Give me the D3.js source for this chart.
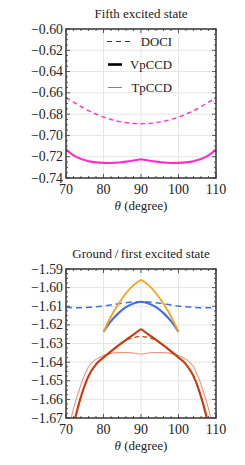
<!DOCTYPE html>
<html>
<head>
<meta charset="utf-8">
<script src="https://cdn.jsdelivr.net/npm/d3@7"></script>
<style>
  body { margin: 0; background: #fff; }
  text { font-family: "Liberation Serif", "DejaVu Serif", serif; fill: #222; }
</style>
</head>
<body>
<script>
// angles (degree), every 2 degrees
var theta = [70,72,74,76,78,80,82,84,86,88,90,92,94,96,98,100,102,104,106,108,110];
var thetaMid = [80,82,84,86,88,90,92,94,96,98,100];

// Fifth excited state
var fifthDOCI  = [-0.6645,-0.6688,-0.6730,-0.6768,-0.6800,-0.6828,-0.6850,-0.6868,-0.6880,-0.6888,-0.6890,
                  -0.6888,-0.6880,-0.6868,-0.6850,-0.6828,-0.6800,-0.6768,-0.6730,-0.6688,-0.6645];
var fifthVp    = [-0.7130,-0.7188,-0.7222,-0.7242,-0.7253,-0.7258,-0.7259,-0.7255,-0.7246,-0.7236,-0.7223,
                  -0.7236,-0.7246,-0.7255,-0.7259,-0.7258,-0.7253,-0.7242,-0.7222,-0.7188,-0.7130];

// Ground / first excited state
var groundDOCI = [-1.6106,-1.6108,-1.6108,-1.6106,-1.6103,-1.6099,-1.6093,-1.6087,-1.6081,-1.6077,-1.6076,
                  -1.6077,-1.6081,-1.6087,-1.6093,-1.6099,-1.6103,-1.6106,-1.6108,-1.6108,-1.6106];
var groundVp   = [-1.6237,-1.6180,-1.6137,-1.6105,-1.6085,-1.6076,-1.6085,-1.6105,-1.6137,-1.6180,-1.6237];
var groundTp   = [-1.6237,-1.6155,-1.6087,-1.6030,-1.5987,-1.5958,-1.5987,-1.6030,-1.6087,-1.6155,-1.6237];
var firstDOCI  = [-1.6900,-1.6735,-1.6585,-1.6475,-1.6412,-1.6375,-1.6342,-1.6310,-1.6282,-1.6268,-1.6263,
                  -1.6268,-1.6282,-1.6310,-1.6342,-1.6375,-1.6412,-1.6475,-1.6585,-1.6735,-1.6900];
var firstVp    = [-1.6900,-1.6735,-1.6585,-1.6475,-1.6412,-1.6375,-1.6342,-1.6310,-1.6280,-1.6252,-1.6222,
                  -1.6252,-1.6280,-1.6310,-1.6342,-1.6375,-1.6412,-1.6475,-1.6585,-1.6735,-1.6900];
var firstTp    = [-1.6820,-1.6650,-1.6520,-1.6425,-1.6385,-1.6365,-1.6353,-1.6349,-1.6348,-1.6351,-1.6356,
                  -1.6351,-1.6348,-1.6349,-1.6353,-1.6365,-1.6385,-1.6425,-1.6520,-1.6650,-1.6820];

var legendLabels = ["DOCI", "VpCCD", "TpCCD"];
var xTicks = [70, 80, 90, 100, 110];
var topYTicks = [-0.60,-0.62,-0.64,-0.66,-0.68,-0.70,-0.72,-0.74];
var botYTicks = [-1.59,-1.60,-1.61,-1.62,-1.63,-1.64,-1.65,-1.66,-1.67];

var magenta = "#ff2ec8", orange = "#f7a21b", blue = "#3d70dc", red = "#c93a0c", salmon = "#ea967e";

var svg = d3.select("body").append("svg").attr("width", 245).attr("height", 465);

function fmt(v, d) {
  return (v < 0 ? "\u2212" : "") + Math.abs(v).toFixed(d);
}

function panel(opt) {
  var x = d3.scaleLinear().domain([70, 110]).range([66, 216]);
  var y = d3.scaleLinear().domain(opt.ydom).range([opt.bottom, opt.top]);
  var g = svg.append("g");
  var cid = "clip" + opt.id;
  g.append("clipPath").attr("id", cid).append("rect")
    .attr("x", 66).attr("y", opt.top).attr("width", 150).attr("height", opt.bottom - opt.top);

  // grid
  g.selectAll(".gx").data(xTicks.slice(1, -1)).enter().append("line")
    .attr("x1", d => x(d)).attr("x2", d => x(d)).attr("y1", opt.top).attr("y2", opt.bottom)
    .attr("stroke", "#e4e4e4").attr("stroke-width", 1);
  g.selectAll(".gy").data(opt.yticks.slice(1, -1)).enter().append("line")
    .attr("y1", d => y(d)).attr("y2", d => y(d)).attr("x1", 66).attr("x2", 216)
    .attr("stroke", "#e4e4e4").attr("stroke-width", 1);

  // curves
  var lines = g.append("g").attr("clip-path", "url(#" + cid + ")");
  opt.series.forEach(function (s) {
    var pts = s.xs.map((t, i) => [t, s.ys[i]]);
    var parts = s.cusp ? [pts.filter(p => p[0] <= 90), pts.filter(p => p[0] >= 90)] : [pts];
    var line = d3.line().x(p => x(p[0])).y(p => y(p[1])).curve(d3.curveMonotoneX);
    parts.forEach(function (p) {
      lines.append("path").attr("d", line(p)).attr("fill", "none")
        .attr("stroke", s.color).attr("stroke-width", s.width)
        .attr("stroke-dasharray", s.dash || null);
    });
  });

  // ticks on all sides (inward)
  var minorX = d3.range(70, 110.01, 2);
  var minorY = d3.range(0, Math.round((opt.ydom[1] - opt.ydom[0]) / opt.minor) + 1)
    .map(i => opt.ydom[0] + i * opt.minor);
  var tk = g.append("g").attr("stroke", "#333").attr("stroke-width", 0.8);
  minorX.forEach(function (t) {
    var len = (t % 10 === 0) ? 4 : 2;
    tk.append("line").attr("x1", x(t)).attr("x2", x(t)).attr("y1", opt.bottom).attr("y2", opt.bottom - len);
    tk.append("line").attr("x1", x(t)).attr("x2", x(t)).attr("y1", opt.top).attr("y2", opt.top + len);
  });
  minorY.forEach(function (v, i) {
    var len = (i % opt.perMajor === 0) ? 4 : 2;
    tk.append("line").attr("y1", y(v)).attr("y2", y(v)).attr("x1", 66).attr("x2", 66 + len);
    tk.append("line").attr("y1", y(v)).attr("y2", y(v)).attr("x1", 216).attr("x2", 216 - len);
  });

  // frame
  g.append("rect").attr("x", 66).attr("y", opt.top).attr("width", 150).attr("height", opt.bottom - opt.top)
    .attr("fill", "none").attr("stroke", "#333").attr("stroke-width", 1.5);

  // labels
  g.selectAll(".yl").data(opt.yticks).enter().append("text")
    .attr("x", 63).attr("y", d => y(d) + 4.5).attr("text-anchor", "end")
    .attr("font-size", 13.8).text(d => fmt(d, opt.dec));
  g.selectAll(".xl").data(xTicks).enter().append("text")
    .attr("x", d => x(d)).attr("y", opt.bottom + 15.5).attr("text-anchor", "middle")
    .attr("font-size", 14).text(d => d);
  var xt = g.append("text").attr("x", 141).attr("y", opt.bottom + 32).attr("text-anchor", "middle")
    .attr("font-size", 13);
  xt.append("tspan").attr("font-style", "italic").text("\u03b8");
  xt.append("tspan").text(" (degree)");
  g.append("text").attr("x", 141).attr("y", opt.top - 11).attr("text-anchor", "middle")
    .attr("font-size", 13).text(opt.title);
  return g;
}

panel({
  id: 1, top: 29, bottom: 178, ydom: [-0.74, -0.60], yticks: topYTicks, dec: 2,
  minor: 0.005, perMajor: 4, title: "Fifth excited state",
  series: [
    { xs: theta, ys: fifthDOCI, color: magenta, width: 1.4, dash: "4.5,3.5" },
    { xs: theta, ys: fifthVp, color: magenta, width: 2.1, cusp: true }
  ]
});

panel({
  id: 2, top: 269, bottom: 418, ydom: [-1.67, -1.59], yticks: botYTicks, dec: 2,
  minor: 0.0025, perMajor: 4, title: "Ground\u2009/\u2009first excited state",
  series: [
    { xs: theta, ys: firstTp, color: salmon, width: 1.1 },
    { xs: theta, ys: firstDOCI, color: red, width: 1.3, dash: "4.5,3.5" },
    { xs: theta, ys: firstVp, color: red, width: 2.1, cusp: true },
    { xs: theta, ys: groundDOCI, color: blue, width: 1.5, dash: "6,4" },
    { xs: thetaMid, ys: groundVp, color: blue, width: 2.1 },
    { xs: thetaMid, ys: groundTp, color: orange, width: 1.8, cusp: true }
  ]
});

// legend (top panel), columns centred like the original
var leg = svg.append("g");
var legStyle = [
  { color: "#333", width: 1.2, dash: "5,4", x1: 107, x2: 133 },
  { color: "#000", width: 2.6, x1: 108, x2: 122 },
  { color: "#777", width: 0.9, x1: 108, x2: 122 }
];
legendLabels.forEach(function (lab, i) {
  var ly = 41.5 + i * 23;
  leg.append("line").attr("x1", legStyle[i].x1).attr("x2", legStyle[i].x2).attr("y1", ly).attr("y2", ly)
    .attr("stroke", legStyle[i].color).attr("stroke-width", legStyle[i].width)
    .attr("stroke-dasharray", legStyle[i].dash || null);
  leg.append("text").attr("x", 172).attr("y", ly + 4.5).attr("text-anchor", "end")
    .attr("font-size", 12.8).text(lab);
});
</script>
</body>
</html>
